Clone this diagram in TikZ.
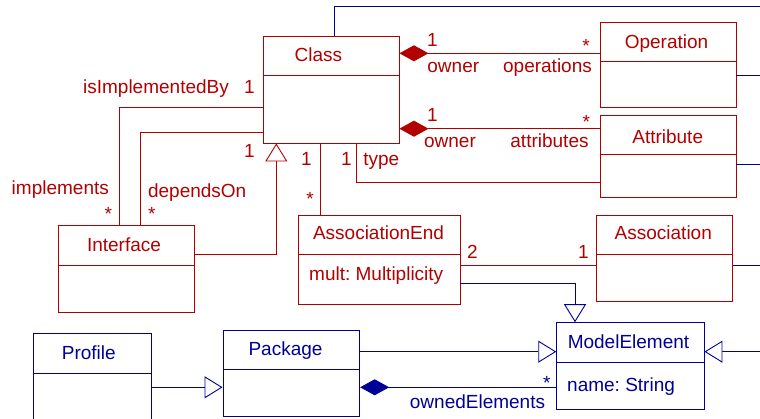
\documentclass[tikz,border=0pt]{standalone}
\usepackage{fontspec}
\setmainfont{Liberation Sans}
\usetikzlibrary{arrows.meta,fit}
\frenchspacing

\definecolor{umlred}{RGB}{178,0,0}
\definecolor{umlblue}{RGB}{0,0,150}

\tikzset{
  lbl/.style={inner sep=0pt, anchor=base, font=\fontsize{19}{22}\selectfont},
  redtxt/.style={lbl, text=umlred},
  bluetxt/.style={lbl, text=umlblue},
  startxt/.style={anchor=north},
  redbox/.style={draw=umlred, line width=0.9pt, inner sep=0pt},
  bluebox/.style={draw=umlblue, line width=0.9pt, inner sep=0pt},
  redline/.style={draw=umlred, line width=0.9pt},
  blueline/.style={draw=umlblue, line width=0.9pt},
  gen/.style={-{Triangle[open,length=18pt,width=22pt,fill=white]}},
  compose/.style={{Diamond[length=29pt,width=16pt]}-},
}

% class box: name, style, corner, corner, y of the compartment divider
\newcommand\umlclass[5]{%
  \node[#2, fit={#3 #4}] (#1) {};
  \draw[#2] (#1.west |- 0,#5) -- (#1.east |- 0,#5);}

\begin{document}
\begin{tikzpicture}[x=1pt,y=-1pt]
\useasboundingbox (0,0) rectangle (760,419);

% ---- classes
\umlclass{class}{redbox}{(263,36)}{(399,143)}{75}
\node[redtxt] (classT) at (318.5,61.7) {Class};

\umlclass{op}{redbox}{(600,22)}{(736,107)}{61}
\node[redtxt] (opT) at (666.5,48.3) {Operation};

\umlclass{attr}{redbox}{(600,115)}{(736,197)}{154.3}
\node[redtxt] (attrT) at (667.7,143.3) {Attribute};

\umlclass{iface}{redbox}{(58,225.7)}{(194.3,312)}{265.3}
\node[redtxt] (ifaceT) at (124,251.7) {Interface};

\umlclass{aend}{redbox}{(298.3,215)}{(460,304.7)}{254.3}
\node[redtxt] (aendT) at (378.5,240) {AssociationEnd};
\node[redtxt, anchor=base west] (aendA) at (309,281) {mult: Multiplicity};

\umlclass{assoc}{redbox}{(596.7,215)}{(732.7,301)}{254.3}
\node[redtxt] (assocT) at (663.3,240) {Association};

\umlclass{me}{bluebox}{(556.7,322.7)}{(704,409)}{362.7}
\node[bluetxt] (meT) at (628.5,348.3) {ModelElement};
\node[bluetxt, anchor=base west] (meA) at (567,391.7) {name: String};

\umlclass{pkg}{bluebox}{(223,330)}{(359.7,416)}{369.7}
\node[bluetxt] (pkgT) at (285.5,355.3) {Package};

\umlclass{prof}{bluebox}{(33,333.7)}{(151.7,440)}{373.3}
\node[bluetxt] (profT) at (88.8,359.3) {Profile};

% ---- free ends at the right border
\coordinate (topR) at (760,6.7);
\coordinate (opR) at (760,75);
\coordinate (attrR) at (760,164.7);
\coordinate (assocR) at (760,265.3);
\coordinate (meR) at (760,351.7);

% ---- blue connectors
\draw[blueline] (class.north -| 334.3,0) |- (topR);
\draw[blueline] (op.east |- 0,75) -- (opR);
\draw[blueline] (attr.east |- 0,164.7) -- (attrR);
\draw[blueline] (assoc.east |- 0,265.3) -- (assocR);
\draw[blueline, gen] (meR) -- (me.east |- 0,351.7);
\draw[blueline, gen] (pkg.east |- 0,351.7) -- (me.west |- 0,351.7);
\draw[blueline, compose, fill=umlblue] (pkg.east |- 0,387.3) -- (me.west |- 0,387.3);
\draw[blueline, gen] (prof.east |- 0,387.3) -- (pkg.west |- 0,387.3);
\draw[blueline, gen] (aend.east |- 0,283.3) -| (me.north -| 575,0);

% ---- red connectors
\draw[redline] (aend.east |- 0,265.3) -- (assoc.west |- 0,265.3);
\draw[redline, gen] (iface.east |- 0,254.3) -| (class.south -| 276.3,0);
\draw[redline] (class.west |- 0,107.3) -| (iface.north -| 119,0);
\draw[redline] (class.west |- 0,132.7) -| (iface.north -| 140.7,0);
\draw[redline] (class.south -| 320,0) -- (aend.north -| 320,0);
\draw[redline] (class.south -| 356,0) |- (attr.west |- 0,182.7);
\draw[redline, compose] (class.east |- 0,53.3) -- (op.west |- 0,53.3);
\draw[redline, compose] (class.east |- 0,128.7) -- (attr.west |- 0,128.7);

% ---- role names and multiplicities
\node[redtxt] (m1) at (432.5,47) {1};
\node[redtxt] (r1) at (453.3,72.3) {owner};
\node[redtxt] (r2) at (547.5,72.3) {operations};
\node[redtxt, startxt] (m2) at (586,39.3) {*};

\node[redtxt] (m3) at (432.5,121.7) {1};
\node[redtxt] (r3) at (450,147.3) {owner};
\node[redtxt] (r4) at (549.5,147.3) {attributes};
\node[redtxt, startxt] (m4) at (586.3,115) {*};

\node[redtxt] (m5) at (346.5,165.7) {1};
\node[redtxt] (r5) at (381.3,165.7) {type};
\node[redtxt] (m6) at (306.5,165.7) {1};
\node[redtxt, startxt] (m7) at (310,192.7) {*};
\node[redtxt] (m8) at (249.3,157.7) {1};

\node[redtxt] (r6) at (156,93.3) {isImplementedBy};
\node[redtxt] (m9) at (249.5,93.3) {1};
\node[redtxt] (r7) at (60.3,194.3) {implements};
\node[redtxt] (r8) at (197.2,197.3) {dependsOn};
\node[redtxt, startxt] (m10) at (108.3,207.3) {*};
\node[redtxt, startxt] (m11) at (151.7,207.3) {*};

\node[redtxt] (m12) at (472.3,258.3) {2};
\node[redtxt] (m13) at (583.3,258.3) {1};

\node[bluetxt, startxt] (m14) at (546.7,376.7) {*};
\node[bluetxt] (r9) at (477.5,408.7) {ownedElements};
\end{tikzpicture}
\end{document}
